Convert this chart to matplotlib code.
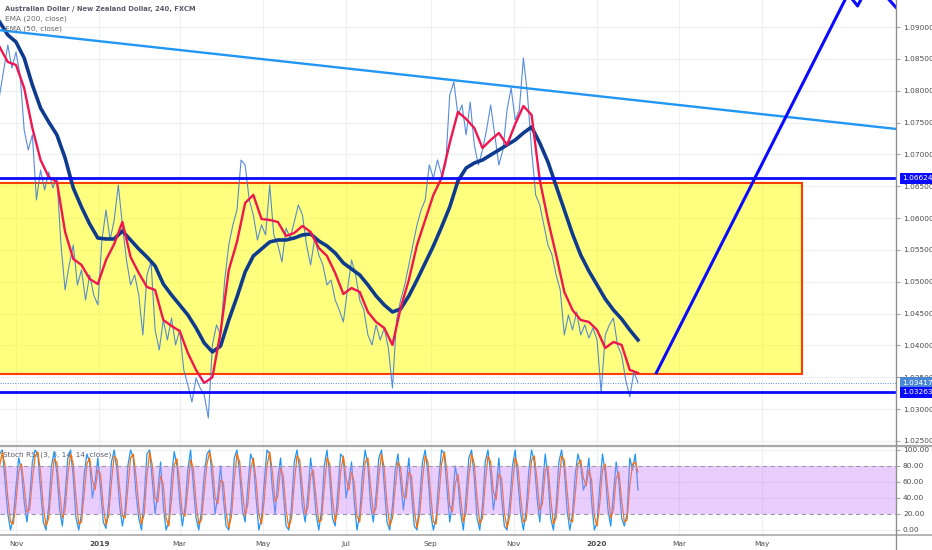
import matplotlib
matplotlib.use("Agg")
import matplotlib.pyplot as plt
import matplotlib.dates as mdates
from matplotlib.lines import Line2D
from matplotlib.patches import Rectangle
import pandas as pd

plt.rcParams['font.family'] = ['DejaVu Sans']

# price (4h close, sampled every 3 days)
price = [
    1.07933, 1.08325, 1.08718, 1.08356, 1.08608, 1.08247, 1.07383, 1.07069, 1.07305, 1.06284,
    1.06755, 1.06441, 1.06724, 1.06472, 1.06629, 1.05578, 1.04871, 1.05264, 1.05578, 1.04950,
    1.05185, 1.04714, 1.05107, 1.04793, 1.04636, 1.05656, 1.06127, 1.05656, 1.05970, 1.06520,
    1.05892, 1.05342, 1.04950, 1.05107, 1.04793, 1.04165, 1.05107, 1.05311, 1.04243, 1.03929,
    1.04400, 1.04086, 1.04431, 1.04008, 1.04243, 1.03615, 1.03380, 1.03113, 1.03489, 1.03332,
    1.03223, 1.02861, 1.04008, 1.04322, 1.04165, 1.05028, 1.05578, 1.05892, 1.06127, 1.06912,
    1.06834, 1.06284, 1.06049, 1.05656, 1.05892, 1.05735, 1.06520, 1.05735, 1.05578, 1.05311,
    1.05844, 1.05687, 1.05939, 1.06206, 1.06049, 1.05578, 1.05264, 1.05687, 1.05421, 1.05264,
    1.04950, 1.05028, 1.04714, 1.04557, 1.04369, 1.04871, 1.05342, 1.05107, 1.04714, 1.04557,
    1.04165, 1.04008, 1.04322, 1.04086, 1.04274, 1.03955, 1.03332, 1.04400, 1.04714, 1.04950,
    1.05264, 1.05578, 1.05892, 1.06127, 1.06284, 1.06834, 1.06629, 1.06912, 1.06677, 1.06834,
    1.07933, 1.08137, 1.07619, 1.07776, 1.07305, 1.07823, 1.07148, 1.06834, 1.07069, 1.07383,
    1.07776, 1.07305, 1.06834, 1.07069, 1.07697, 1.08042, 1.07540, 1.07697, 1.08513, 1.07933,
    1.07069, 1.06363, 1.06206, 1.05892, 1.05578, 1.05421, 1.05107, 1.04871, 1.04165, 1.04479,
    1.04243, 1.04526, 1.04165, 1.04322, 1.04117, 1.04274, 1.04086, 1.03254, 1.04165, 1.04322,
    1.04431, 1.04008, 1.03850, 1.03458, 1.03191, 1.03584, 1.03417,
]

# EMA values every 6 days
ema200 = [
    1.09079, 1.08875, 1.08765, 1.08513, 1.08090, 1.07728, 1.07509, 1.07305, 1.06943, 1.06472,
    1.06174, 1.05907, 1.05687, 1.05672, 1.05672, 1.05797, 1.05656, 1.05515, 1.05389, 1.05248,
    1.04965, 1.04793, 1.04636, 1.04479, 1.04274, 1.04039, 1.03898, 1.03992, 1.04400, 1.04761,
    1.05154, 1.05405, 1.05515, 1.05625, 1.05656, 1.05656, 1.05687, 1.05735, 1.05750, 1.05640,
    1.05562, 1.05452, 1.05295, 1.05201, 1.05107, 1.04950, 1.04777, 1.04636, 1.04526, 1.04573,
    1.04777, 1.05028, 1.05295, 1.05562, 1.05860, 1.06174, 1.06582, 1.06786, 1.06865, 1.06912,
    1.06991, 1.07069, 1.07148, 1.07226, 1.07336, 1.07430, 1.07179, 1.06881, 1.06504, 1.06127,
    1.05750, 1.05421, 1.05169, 1.04950, 1.04730, 1.04557, 1.04416, 1.04243, 1.04086,
]
ema50 = [
    1.08686, 1.08451, 1.08404, 1.08042, 1.07414, 1.06912, 1.06645, 1.06567, 1.05782, 1.05358,
    1.05264, 1.05044, 1.04965, 1.05342, 1.05593, 1.05939, 1.05389, 1.05138, 1.04918, 1.04871,
    1.04400, 1.04306, 1.04227, 1.03882, 1.03615, 1.03410, 1.03500, 1.04212, 1.05185, 1.05625,
    1.06237, 1.06363, 1.05986, 1.05970, 1.05939, 1.05719, 1.05766, 1.05876, 1.05782, 1.05530,
    1.05405, 1.05138, 1.04808, 1.04902, 1.04840, 1.04526, 1.04369, 1.04274, 1.04008, 1.04588,
    1.05028, 1.05578, 1.05970, 1.06363, 1.06629, 1.07179, 1.07666, 1.07556, 1.07414, 1.07100,
    1.07226, 1.07336, 1.07148, 1.07477, 1.07760, 1.07619, 1.06598, 1.05970, 1.05421, 1.04840,
    1.04557, 1.04400, 1.04369, 1.04243, 1.03960, 1.04055, 1.04008, 1.03615, 1.03568,
]

# Stoch RSI %K every 2 days
stoch_k = [
    85, 95, 70, 30, 5, 20, 65, 95, 100, 60,
    20, 0, 15, 55, 90, 75, 35, 10, 40, 85,
    100, 95, 50, 10, 0, 30, 80, 98, 70, 25,
    5, 45, 90, 100, 65, 15, 0, 20, 70, 95,
    85, 40, 60, 90, 50, 10, 2, 35, 85, 100,
    75, 30, 5, 25, 80, 100, 90, 45, 15, 0,
    40, 95, 100, 60, 20, 50, 85, 30, 0, 10,
    65, 98, 80, 35, 5, 30, 75, 100, 55, 15,
    0, 25, 70, 95, 100, 60, 20, 45, 80, 40,
    5, 0, 35, 90, 100, 70, 25, 10, 55, 95,
    85, 40, 0, 15, 60, 100, 95, 50, 20, 65,
    90, 45, 5, 0, 30, 85, 100, 75, 30, 10,
    45, 90, 60, 20, 0, 25, 80, 100, 65, 15,
    5, 50, 95, 90, 40, 60, 85, 35, 0, 20,
    70, 100, 80, 30, 10, 45, 90, 100, 55, 10,
    0, 30, 75, 95, 60, 25, 55, 90, 45, 5,
    0, 40, 85, 100, 70, 20, 0, 15, 65, 100,
    95, 50, 10, 35, 80, 60, 20, 0, 45, 90,
    100, 65, 15, 0, 30, 85, 100, 70, 25, 50,
    90, 40, 5, 0, 35, 80, 100, 60, 20, 0,
    25, 75, 100, 85, 40, 10, 55, 95, 65, 15,
    0, 30, 85, 100, 75, 25, 0, 20, 70, 95,
    80, 50, 60, 90, 35, 0, 10, 55, 95, 70,
    25, 5, 45, 85, 60, 15, 5, 20, 90, 75, 95, 50,
]

level_hi = 1.06624
level_lo = 1.03263
last_price = 1.03417
box_top, box_bottom = 1.0655, 1.0355
box_start, box_end = '2018-09-01', '2020-05-30'
trend_dates = ['2018-10-20', '2020-08-07']
trend_vals = [1.0895, 1.0740]
proj_dates = ['2020-02-13', '2020-07-03', '2020-07-10', '2020-07-20', '2020-08-10']
proj_vals = [1.0355, 1.0952, 1.0933, 1.0974, 1.0924]

tick_dates = ['2018-11-01', '2019-01-01', '2019-03-01', '2019-05-01', '2019-07-01',
              '2019-09-01', '2019-11-01', '2020-01-01', '2020-03-01', '2020-05-01']
tick_labels = ['Nov', '2019', 'Mar', 'May', 'Jul', 'Sep', 'Nov', '2020', 'Mar', 'May']
price_ticks = [1.025 + 0.005 * i for i in range(14)]
stoch_ticks = [0, 20, 40, 60, 80, 100]


def dnum(values):
    return mdates.date2num(pd.to_datetime(values).to_pydatetime())


price_x = dnum(pd.date_range('2018-10-20', periods=len(price), freq='3D'))
ema_x = dnum(pd.date_range('2018-10-20', periods=len(ema200), freq='6D'))
stoch_x = dnum(pd.date_range(end='2020-01-31', periods=len(stoch_k), freq='2D'))
stoch_d = pd.Series(stoch_k).rolling(2, min_periods=1).mean()
xticks = dnum(tick_dates)
xlim = dnum(['2018-10-20 06:30', '2020-08-07 04:00'])

W, H = 932, 550
fig = plt.figure(figsize=(W / 100, H / 100), dpi=100)
fig.patch.set_facecolor('white')
ax = fig.add_axes([0, 1 - 445 / H, 896 / W, 445 / H])
ax2 = fig.add_axes([0, 15 / H, 896 / W, 89 / H])

grid_c = '#eef0f3'
label_c = '#4c4c4c'
fs = 5.3

# --- main price panel ---
ax.set_xlim(*xlim)
ax.set_ylim(1.02437, 1.09424)
for t in xticks:
    ax.axvline(t, color=grid_c, lw=0.9, zorder=0)
for p in price_ticks:
    ax.axhline(p, color=grid_c, lw=0.9, zorder=0)

bx = dnum([box_start, box_end])
ax.add_patch(Rectangle((bx[0], box_bottom), bx[1] - bx[0], box_top - box_bottom,
                       facecolor=(1, 1, 0, 0.5), edgecolor='#ff3d00', lw=1.5, zorder=1))

ax.plot(price_x, price, color='#3b78d6', lw=0.8, alpha=0.85, zorder=3)
ax.plot(ema_x, ema200, color='#0f3b8f', lw=2.6, zorder=4)
ax.plot(ema_x, ema50, color='#f0164f', lw=1.7, zorder=5)

ax.plot(dnum(trend_dates), trend_vals, color='#2196f3', lw=1.7, zorder=6)
ax.axhline(level_hi, color='#0a0aff', lw=2, zorder=6)
ax.axhline(level_lo, color='#0a0aff', lw=2, zorder=6)
ax.axhline(last_price, color='#5b8fd8', lw=0.7, ls=(0, (1, 1.5)), zorder=6)
ax.plot(dnum(proj_dates), proj_vals, color='#0a0aff', lw=2.2, zorder=6,
        solid_capstyle='butt')

for s in ax.spines.values():
    s.set_visible(False)
ax.yaxis.tick_right()
ax.set_yticks(price_ticks)
ax.set_yticklabels([f'{p:.5f}' for p in price_ticks])
ax.tick_params(axis='y', direction='out', length=3, width=0.6, color='#8f8f8f',
               pad=2, labelsize=fs, labelcolor=label_c)
ax.tick_params(axis='x', length=0, labelbottom=False)
ax.set_xticks(xticks)


def price_tag(val, color):
    ax.annotate(f'{val:.5f}', xy=(1, val), xycoords=('axes fraction', 'data'),
                xytext=(4.6, 0), textcoords='offset points', ha='left', va='center',
                fontsize=fs, color='white', annotation_clip=False, zorder=10,
                bbox=dict(boxstyle='square,pad=0.32', fc=color, ec='none'))


price_tag(level_hi, '#0a0aff')
price_tag(last_price, '#4a88d6')
price_tag(level_lo, '#0a0aff')

fig.text(5 / W, 1 - 9 / H, 'Australian Dollar / New Zealand Dollar, 240, FXCM',
         fontsize=4.9, fontweight='semibold', color='#5d5a6e', va='center')
fig.text(5 / W, 1 - 18.5 / H, 'EMA (200, close)', fontsize=fs, color='#6b6b6b', va='center')
fig.text(5 / W, 1 - 28.5 / H, 'EMA (50, close)', fontsize=fs, color='#6b6b6b', va='center')

# --- stoch RSI panel ---
ax2.set_xlim(*xlim)
ax2.set_ylim(-6.25, 105)
for t in xticks:
    ax2.axvline(t, color=grid_c, lw=0.9, zorder=0)
for v in [0, 40, 60, 100]:
    ax2.axhline(v, color=grid_c, lw=0.9, zorder=0)
ax2.plot(stoch_x, stoch_k, color='#2196f3', lw=0.9, zorder=2)
ax2.plot(stoch_x, stoch_d, color='#ff6d00', lw=0.9, zorder=2)
ax2.axhspan(20, 80, color='#c882fa', alpha=0.4, lw=0, zorder=3)
for v in [20, 80]:
    ax2.axhline(v, color='#9a98a6', lw=0.8, ls=(0, (4, 3)), zorder=4)
ax2.text(3 / 896, 0.9, 'Stoch RSI (3, 3, 14, 14, close)', transform=ax2.transAxes,
         fontsize=fs, color='#5d5a6e', va='center', zorder=1)

for s in ax2.spines.values():
    s.set_visible(False)
ax2.yaxis.tick_right()
ax2.set_yticks(stoch_ticks)
ax2.set_yticklabels([f'{v:.2f}' for v in stoch_ticks])
ax2.tick_params(axis='y', direction='out', length=3, width=0.6, color='#8f8f8f',
                pad=2, labelsize=fs, labelcolor=label_c)
ax2.set_xticks(xticks)
ax2.set_xticklabels(tick_labels)
ax2.tick_params(axis='x', length=0, pad=4.5, labelsize=fs, labelcolor=label_c)
for lab in ax2.get_xticklabels():
    if lab.get_text() in ('2019', '2020'):
        lab.set_fontweight('bold')

# panel separators and price scale border
fig.add_artist(Line2D([0, 1], [1 - 445.5 / H] * 2, transform=fig.transFigure,
                      color='#a8a8a8', lw=1.6))
fig.add_artist(Line2D([0, 1], [15 / H] * 2, transform=fig.transFigure,
                      color='#a8a8a8', lw=1.2))
fig.add_artist(Line2D([896 / W] * 2, [0, 1], transform=fig.transFigure,
                      color='#8f8f8f', lw=1.0))

fig.savefig('out.png', dpi=100, facecolor='white')
